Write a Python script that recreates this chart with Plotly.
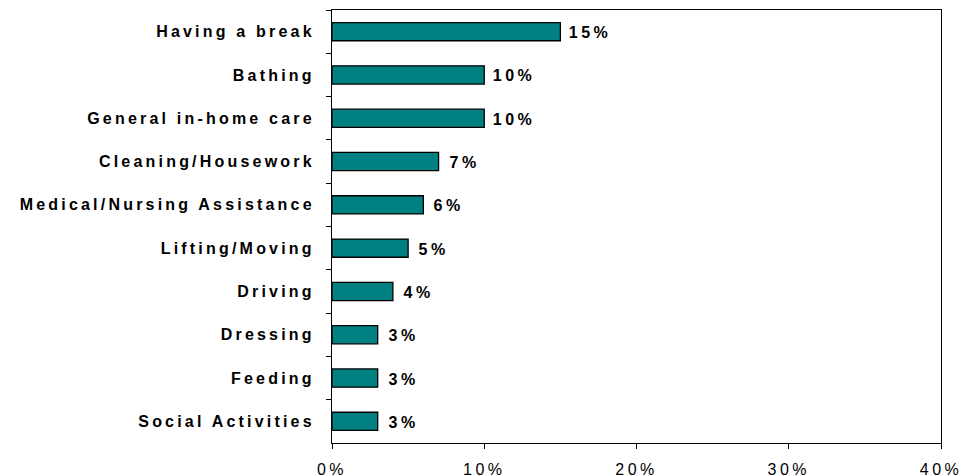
import plotly.graph_objects as go

# Care activities where extra help is wanted, share of respondents (%)
activities = [
    "Having a break",
    "Bathing",
    "General in-home care",
    "Cleaning/Housework",
    "Medical/Nursing Assistance",
    "Lifting/Moving",
    "Driving",
    "Dressing",
    "Feeding",
    "Social Activities",
]
shares = [15, 10, 10, 7, 6, 5, 4, 3, 3, 3]
x_ticks = [0, 10, 20, 30, 40]
x_tick_labels = ["0%", "10%", "20%", "30%", "40%"]

FONT = "Liberation Sans, Arial, sans-serif"
TEAL = "#008080"

fig = go.Figure(
    go.Bar(
        x=shares,
        y=activities,
        orientation="h",
        width=0.42,
        marker=dict(color=TEAL, line=dict(color="#000000", width=1.3)),
        hoverinfo="skip",
    )
)

# value labels just past the end of each bar
for act, val in zip(activities, shares):
    fig.add_annotation(
        x=val, y=act, text=f"{val}%", showarrow=False,
        xanchor="left", yanchor="middle", xshift=12, yshift=-1,
        font=dict(family=FONT, size=16, color="#000000", weight="bold"),
    )

fig.update_layout(
    width=960, height=476,
    margin=dict(l=332, r=19, t=10, b=33, autoexpand=False),
    paper_bgcolor="#ffffff", plot_bgcolor="#ffffff",
    showlegend=False,
    font=dict(family=FONT, color="#000000"),
)

fig.update_xaxes(
    range=[0, 40], tickvals=x_ticks, ticktext=x_tick_labels,
    showgrid=False, zeroline=False, automargin=False,
    showline=True, linecolor="#000000", linewidth=1, mirror=True,
    ticks="outside", ticklen=5, tickcolor="#000000",
    tickfont=dict(family=FONT, size=16, color="#000000"),
    ticklabelstandoff=7,
)
fig.update_yaxes(
    type="category", autorange="reversed",
    showgrid=False, zeroline=False, automargin=False,
    showline=True, linecolor="#000000", linewidth=1, mirror=True,
    ticks="outside", ticklen=5, tickcolor="#000000", tickson="boundaries",
    tickfont=dict(family=FONT, size=16, color="#000000", weight="bold"),
    ticklabelstandoff=13,
)

# widened letter spacing for all chart text
spacing_js = (
    "var s=document.createElement('style');"
    "s.textContent='.ytick text{letter-spacing:3.2px}"
    ".xtick text{letter-spacing:3.5px}"
    ".annotation-text{letter-spacing:3.5px}';"
    "document.head.appendChild(s);"
)

fig.write_html("out.html", post_script=spacing_js)
